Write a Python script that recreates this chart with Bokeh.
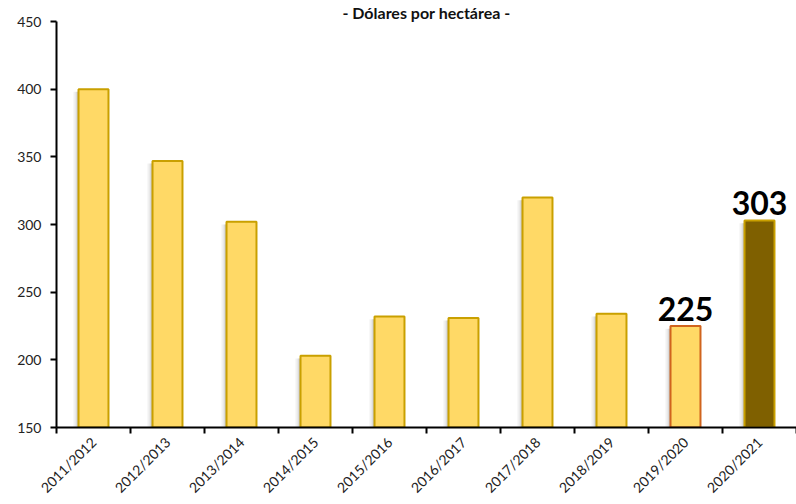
import math
from bokeh.plotting import figure
from bokeh.models import ColumnDataSource, FixedTicker, Range1d
from bokeh.core.properties import value
from bokeh.embed import file_html
from bokeh.resources import INLINE

# ---- data ----
seasons = ["2011/2012", "2012/2013", "2013/2014", "2014/2015", "2015/2016",
           "2016/2017", "2017/2018", "2018/2019", "2019/2020", "2020/2021"]
values = [400, 347, 302, 203, 232, 231, 320, 234, 225, 303]
fill_colors = ["#FFD966"] * 9 + ["#7F6000"]
line_colors = ["#C9A000"] * 8 + ["#D0641E", "#C9A000"]
labelled = {8: "225", 9: "303"}
title_text = "- Dólares por hectárea -"
y_ticks = [150, 200, 250, 300, 350, 400, 450]

FONT = "Lato"
n = len(seasons)
xc = [i + 0.5 for i in range(n)]

p = figure(width=796, height=504, output_backend="svg", toolbar_location=None,
           x_range=Range1d(0, n), y_range=Range1d(150, 450),
           min_border_left=56, min_border_right=0, min_border_top=18,
           min_border_bottom=77, title=title_text)
p.outline_line_color = None
p.xgrid.visible = False
p.ygrid.visible = False
p.background_fill_color = "white"

p.title.align = "center"
p.title.offset = 13
p.title.standoff = 0
p.title.text_font = FONT
p.title.text_font_style = "bold"
p.title.text_font_size = "16px"
p.title.text_line_height = 0.8
p.title.text_color = "#111111"

# shadows (soft, on the left side)
bw = 0.405
base = 150
for off, a in [(0.075, 0.06), (0.055, 0.10), (0.035, 0.16), (0.018, 0.22)]:
    p.vbar(x=[x - off for x in xc], width=bw, bottom=base,
           top=[v - 2 for v in values], fill_color="#808080", fill_alpha=a,
           line_color=None)

src = ColumnDataSource(dict(x=xc, top=values, fill=fill_colors, line=line_colors))
p.vbar(x="x", width=bw, bottom=base, top="top", source=src,
       fill_color="fill", line_color="line", line_width=2)

# data labels
lx = [xc[i] for i in labelled]
ly = [values[i] for i in labelled]
lt = [labelled[i] for i in labelled]
p.text(x=lx, y=ly, text=lt, text_font=value(FONT), text_font_style="bold",
       text_font_size="32px", text_align="center", text_baseline="alphabetic",
       y_offset=-17, text_color="black")

# y axis
ya = p.yaxis[0]
ya.ticker = FixedTicker(ticks=y_ticks)
ya.axis_line_color = "black"
ya.axis_line_width = 2
ya.major_tick_line_color = "black"
ya.major_tick_line_width = 2
ya.major_tick_out = 6
ya.major_tick_in = 0
ya.minor_tick_line_color = None
ya.major_label_text_font = FONT
ya.major_label_text_font_size = "14px"
ya.major_label_text_color = "#222222"
ya.major_label_standoff = 9

# x axis
xa = p.xaxis[0]
xa.ticker = FixedTicker(ticks=xc, minor_ticks=list(range(n + 1)))
xa.major_label_overrides = {x: s for x, s in zip(xc, seasons)}
xa.major_tick_line_color = None
xa.minor_tick_line_color = "black"
xa.minor_tick_line_width = 2
xa.minor_tick_out = 6
xa.minor_tick_in = 0
xa.axis_line_color = "black"
xa.axis_line_width = 2
xa.major_label_orientation = math.pi / 4
xa.major_label_text_font = FONT
xa.major_label_text_font_size = "14px"
xa.major_label_text_color = "#222222"
xa.major_label_standoff = 6

open("out.html", "w").write(file_html(p, INLINE))
